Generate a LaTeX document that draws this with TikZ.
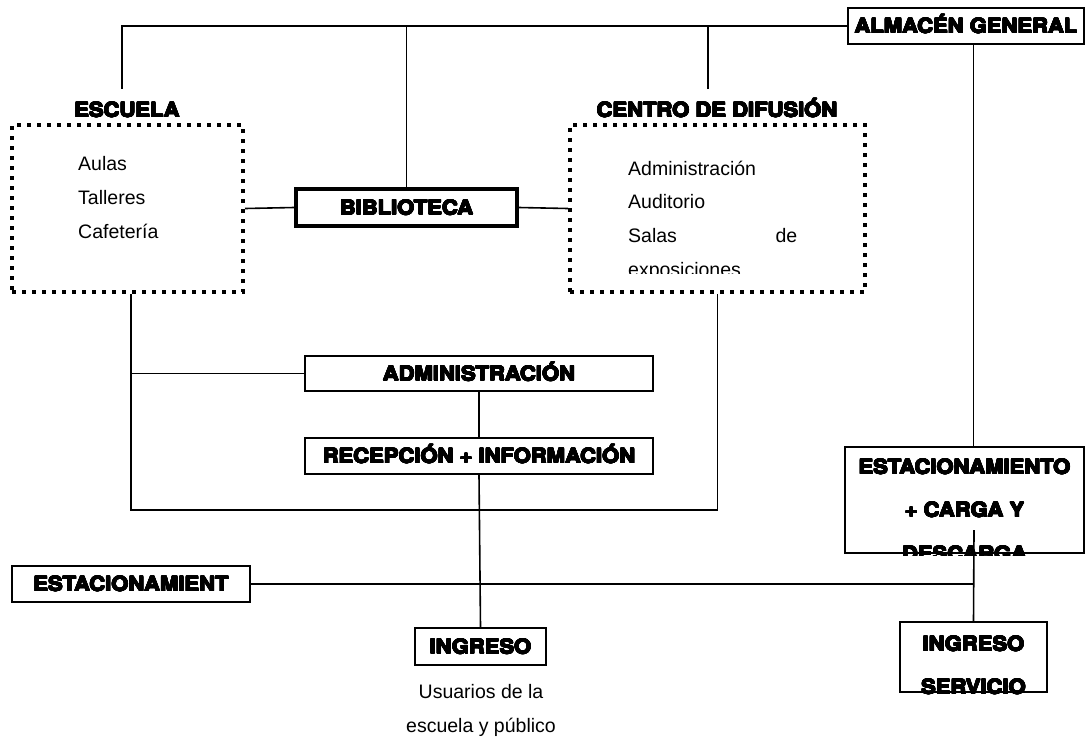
\documentclass[tikz,border=0pt]{standalone}
\usepackage{fontspec}
\usepackage{contour}
\setmainfont{Liberation Sans}
\newfontfamily\heavyfont{TeX Gyre Heros}[FakeStretch=1.1]
\contourlength{0.5pt}
\newcommand{\heavy}[1]{\contour{black}{#1}}
\tikzset{
	conn/.style={line width=1.6pt},
	tag/.style={font=\heavyfont\bfseries\fontsize{20}{43}\selectfont, inner sep=0pt, text height=14.5pt, text depth=0pt},
	plainbox/.style={tag, draw, line width=2pt, fill=white},
	thickbox/.style={plainbox, line width=4pt},
	zone/.style={draw, line width=4pt, dash pattern=on 4pt off 6pt},
	item/.style={font=\fontsize{19.5}{30}\selectfont, inner sep=0pt, anchor=base west}
}
\begin{document}
\begin{tikzpicture}[x=1pt,y=-1pt]
		\useasboundingbox (0,0) rectangle (1086,737);
		% boxes
		\node[plainbox, minimum width=236pt, minimum height=36pt] (almacen) at (966,26) {\heavy{ALMACÉN GENERAL}};
		\node[thickbox, minimum width=221pt, minimum height=37pt] (biblioteca) at (406.5,207.5) {\heavy{BIBLIOTECA}};
		\node[plainbox, minimum width=348pt, minimum height=35pt] (admin) at (479,373.5) {\heavy{ADMINISTRACIÓN}};
		\node[plainbox, minimum width=348pt, minimum height=36pt] (recepcion) at (479,456) {\heavy{RECEPCIÓN + INFORMACIÓN}};
		\node[plainbox, minimum width=131pt, minimum height=37pt] (ingreso) at (480.5,646.5) {\heavy{INGRESO}};
		\node[plainbox, minimum width=238pt, minimum height=36pt] (parking) at (131,584) {\heavy{ESTACIONAMIENT}};
		\node[plainbox, minimum width=239pt, minimum height=106pt] (carga) at (964.5,500) {};
		\node[plainbox, minimum width=147pt, minimum height=70pt] (servicio) at (973.5,657) {};
		% zonas punteadas
		\node[zone, minimum width=231pt, minimum height=167pt] (escuela) at (127.5,208.5) {};
		\node[zone, minimum width=295pt, minimum height=167pt] (centro) at (717.5,208.5) {};
		\node[tag] (escuelaTag) at (127,110) {\heavy{ESCUELA}};
		\node[tag] (centroTag) at (717,110) {\heavy{CENTRO DE DIFUSIÓN}};
		\node[item] (aulas) at (78,170) {Aulas};
		\node[item] (talleres) at (78,204) {Talleres};
		\node[item] (cafeteria) at (78,238) {Cafetería};
		\node[item] (adminItem) at (628,175) {Administración};
		\node[item] (auditorio) at (628,208) {Auditorio};
		\node[item, text width=169pt] (salas) at (628,242) {Salas\hfill de};
		\begin{scope}
			\clip (572,128) rectangle (863,273);
			\node[item] (exposiciones) at (628,276) {exposiciones};
		\end{scope}
		\begin{scope}
			\clip ([shift={(1pt,-1pt)}]carga.south west) rectangle ([shift={(-1pt,1pt)}]carga.north east);
			\node[tag, anchor=base] (carga1) at (964.5,474) {\heavy{ESTACIONAMIENTO}};
			\node[tag, anchor=base] (carga2) at (964.5,517) {\heavy{+ CARGA Y}};
			\node[tag, anchor=base] (carga3) at (964.5,561) {\heavy{DESCARGA}};
		\end{scope}
		\begin{scope}
			\clip ([shift={(1pt,-1pt)}]servicio.south west) rectangle ([shift={(-1pt,1pt)}]servicio.north east);
			\node[tag, anchor=base] (servicio1) at (973.5,651) {\heavy{INGRESO}};
			\node[tag, anchor=base] (servicio2) at (973.5,694) {\heavy{SERVICIO}};
		\end{scope}
		\node[font=\fontsize{19.5}{34}\selectfont, align=center, anchor=north, inner sep=0pt] (usuarios) at (481,684) {Usuarios de la\\escuela y público};
		% conexiones
		\coordinate (jEsc) at (122,89);
		\coordinate (jCen) at (708,89);
		\coordinate (jLow) at (131,510);
		\coordinate (jCarga) at (974,530);
		\draw[conn] (almacen.west) -| (jEsc);
		\draw[conn] (biblioteca.north) -- (biblioteca.north |- almacen.west);
		\draw[conn] (jCen) -- (jCen |- almacen.west);
		\draw[conn] (servicio.north |- almacen.south) -- (servicio.north |- carga.north);
		\draw[conn] (jCarga) -- (servicio.north);
		\draw[conn] (escuela.east) -- (biblioteca.west);
		\draw[conn] (biblioteca.east) -- (centro.west);
		\draw[conn] (jLow |- escuela.south) -- (jLow) -| (centro.south);
		\draw[conn] (admin.west) -- (admin.west -| jLow);
		\draw[conn] (admin.south) -- (recepcion.north);
		\draw[conn] (recepcion.south) -- (ingreso.north);
		\draw[conn] (parking.east) -- (parking.east -| servicio.north);
		\end{tikzpicture}
\end{document}
